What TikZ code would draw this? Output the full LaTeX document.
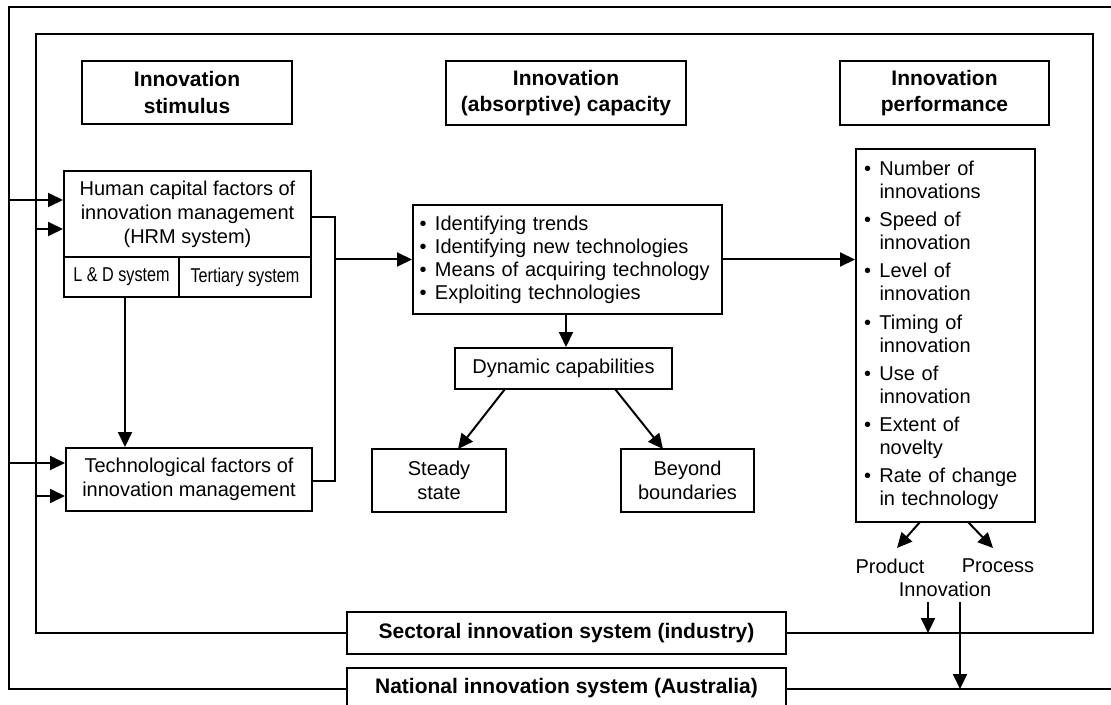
\documentclass[tikz,border=0pt]{standalone}
\usepackage{fontspec}
\setmainfont{Liberation Sans}
\usepackage{graphicx}
\usetikzlibrary{arrows.meta}
\tikzset{
  box/.style={draw, line width=1pt, inner sep=0pt, align=center, font=\fontsize{10}{12}\selectfont},
  head/.style={box, font=\fontsize{10.5}{13.25}\selectfont\bfseries},
  listbox/.style={box, align=left, font=\fontsize{10}{11.5}\selectfont},
  sz/.style 2 args={minimum width=#1*0.5pt, minimum height=#2*0.5pt},
  plain/.style={inner sep=0pt, font=\fontsize{10}{12}\selectfont},
  arr/.style={line width=1pt, -{Triangle[length=7.5pt,width=7pt]}},
  ln/.style={line width=1pt},
}
\newcommand{\bl}{\makebox[7.75pt][l]{\textbullet}}
\newcommand{\ind}{\hspace*{7.75pt}}
\newcommand{\narrow}[1]{\scalebox{0.81}[1]{#1}}
\begin{document}
\begin{tikzpicture}[x=0.5pt,y=-0.5pt]
\useasboundingbox (0,0) rectangle (1111,705);
\clip (0,0) rectangle (1111,705);

% headings
\node[head, sz={210}{63}] (stim) at (187,92.5) {Innovation\\stimulus};
\node[head, sz={240}{64}] (absorb) at (566,93) {Innovation\\(absorptive) capacity};
\node[head, sz={209}{64}] (perfh) at (944.5,93) {Innovation\\performance};

% left column
\node[box, sz={247}{86}] (hrm) at (187.5,214) {Human capital factors of\\innovation management\\(HRM system)};
\node[box, sz={115}{40}] (ld) at (121.5,277) {\narrow{L \& D system}};
\node[box, sz={132}{40}] (tert) at (245,277) {\narrow{Tertiary system}};
\node[box, sz={246}{63}] (tech) at (189,479.5) {Technological factors of\\innovation management};

% middle column
\node[listbox, sz={309}{109}, text width=148pt] (ident) at (567.5,259.5)
  {\mbox{\bl Identifying trends}\\\mbox{\bl Identifying new technologies}\\\mbox{\bl Means of acquiring technology}\\\mbox{\bl Exploiting technologies}};
\node[box, sz={217}{41}] (dyn) at (563.5,368.5) {Dynamic capabilities};
\node[box, sz={134}{63}] (steady) at (439,480.5) {Steady\\state};
\node[box, sz={133}{63}] (beyond) at (687.5,480.5) {Beyond\\boundaries};

% right column
\node[listbox, sz={179}{373}, text width=81.5pt] (perfl) at (945.5,335.5)
  {\bl Number of\\\ind innovations\\[2.6pt]
   \bl Speed of\\\ind innovation\\[2.6pt]
   \bl Level of\\\ind innovation\\[2.6pt]
   \bl Timing of\\\ind innovation\\[2.6pt]
   \bl Use of\\\ind innovation\\[2.6pt]
   \bl Extent of\\\ind novelty\\[2.6pt]
   \bl Rate of change\\\ind in technology};
\node[plain] (prod) at (890,566) {Product};
\node[plain] (proc) at (998,566) {Process};
\node[plain] (innov) at (945,589) {Innovation};

% system boxes
\node[head, sz={439}{42}] (sect) at (566.5,633) {Sectoral innovation system (industry)};
\node[head, sz={439}{40}] (nat) at (566.5,688) {National innovation system (Australia)};

% frames
\draw[ln] (1115,7) -- (9,7) -- (9,689) -- (nat.west |- 0,689);
\draw[ln] (nat.east |- 0,689) -- (1115,689);
\draw[ln] (sect.west |- 0,633) -- (36,633) -- (36,34) -- (1093,34) -- (1093,633) -- (sect.east |- 0,633);

% left inputs
\coordinate (l1) at (9,200);
\coordinate (l2) at (36,229);
\coordinate (l3) at (9,463);
\coordinate (l4) at (36,496);
\draw[arr] (l1) -- (l1 -| hrm.west);
\draw[arr] (l2) -- (l2 -| hrm.west);
\draw[arr] (l3) -- (l3 -| tech.west);
\draw[arr] (l4) -- (l4 -| tech.west);

% L&D to tech
\coordinate (ldx) at (125,297);
\draw[arr] (ldx) -- (ldx |- tech.north);

% bracket to identification box
\coordinate (j1) at (335,217);
\coordinate (j2) at (335,481);
\draw[ln] (j1 -| hrm.east) -- (j1) -- (j2) -- (j2 -| tech.east);
\draw[arr] (j1 |- ident.west) -- (ident.west);
\draw[arr] (ident.east) -- (ident.east -| perfl.west);

% middle arrows
\coordinate (dx) at (566,314);
\draw[arr] (dx) -- (dx |- dyn.north);
\coordinate (d1) at (505,389);
\coordinate (d1e) at (458,449);
\coordinate (d2) at (615,389);
\coordinate (d2e) at (663,449);
\draw[arr] (d1) -- (d1e);
\draw[arr] (d2) -- (d2e);

% outputs
\coordinate (pa1) at (920,522);
\coordinate (pa2) at (897,548);
\coordinate (qa1) at (968,522);
\coordinate (qa2) at (993,548);
\draw[arr] (pa1) -- (pa2);
\draw[arr] (qa1) -- (qa2);
\coordinate (ia1) at (928,602);
\coordinate (ib1) at (960,602);
\draw[arr] (ia1) -- (ia1 |- sect.center);
\draw[arr] (ib1) -- (ib1 |- 0,689);
\end{tikzpicture}
\end{document}
